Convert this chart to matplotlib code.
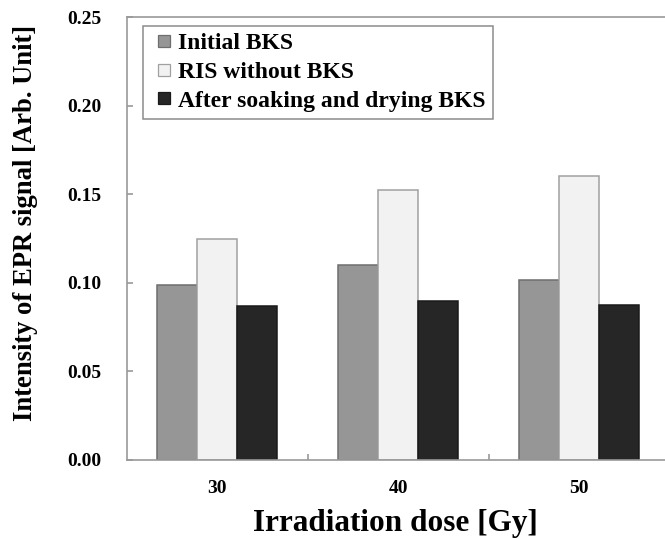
import matplotlib
matplotlib.use("Agg")
import matplotlib.pyplot as plt
from matplotlib.lines import Line2D
import numpy as np

categories = ["30", "40", "50"]
series_names = ["Initial BKS", "RIS without BKS", "After soaking and drying BKS"]
initial_bks = [0.099, 0.110, 0.1015]
ris_without_bks = [0.1245, 0.1526, 0.1603]
after_soaking = [0.0870, 0.0895, 0.0876]
yticks = [0.00, 0.05, 0.10, 0.15, 0.20, 0.25]

face_colors = ["#969696", "#f2f2f2", "#262626"]
edge_colors = ["#6e6e6e", "#a0a0a0", "#1a1a1a"]

plt.rcParams['font.family'] = ['Liberation Serif', 'DejaVu Serif']
plt.rcParams['font.weight'] = 'bold'

W, H = 665, 539
fig = plt.figure(figsize=(W / 100, H / 100), dpi=100)

left_px, right_px, top_px, bottom_px = 126.7, 126.7 + 543, 17, 460
ax = fig.add_axes([left_px / W, 1 - bottom_px / H, (right_px - left_px) / W, (bottom_px - top_px) / H])

x = np.arange(len(categories))
w = 0.222
all_series = [initial_bks, ris_without_bks, after_soaking]
for j, vals in enumerate(all_series):
    ax.bar(x + (j - 1) * w, vals, width=w, color=face_colors[j], edgecolor=edge_colors[j],
           linewidth=1.1, label=series_names[j], zorder=2)

ax.set_xlim(-0.5, 2.5)
ax.set_ylim(0, 0.25)
ax.set_yticks(yticks)
ax.set_yticklabels([f"{v:.2f}" for v in yticks])
ax.set_xticks(x)
ax.set_xticklabels(categories)
ax.set_xticks([0.5, 1.5], minor=True)

spine_color = "#999999"
for s in ax.spines.values():
    s.set_color(spine_color)
    s.set_linewidth(1.2)

ax.tick_params(axis='y', direction='in', length=4, width=1.2, color=spine_color,
               pad=18.5, labelsize=14)
ax.tick_params(axis='x', which='major', length=0, pad=14.5, labelsize=14)
ax.tick_params(axis='x', which='minor', direction='in', length=4, width=1.2, color=spine_color)
for lbl in ax.get_xticklabels() + ax.get_yticklabels():
    lbl.set_fontweight('bold')

ax.set_xlabel("Irradiation dose [Gy]", fontsize=22.5, fontweight='bold')
ax.xaxis.set_label_coords((395.8 - left_px) / 543, -(509.5 - bottom_px) / 443)
ax.set_ylabel("Intensity of EPR signal [Arb. Unit]", fontsize=19.2, fontweight='bold')
ax.yaxis.set_label_coords((38.5 - left_px) / 543, (bottom_px - 223) / 443)

handles = [Line2D([], [], linestyle='none', marker='s', markersize=8.2,
                  markerfacecolor=face_colors[j], markeredgecolor=edge_colors[j],
                  markeredgewidth=0.9) for j in range(3)]
leg = ax.legend(handles, series_names, loc='upper left',
                bbox_to_anchor=(142.7 / W, 1 - 25.7 / H), bbox_transform=fig.transFigure,
                borderaxespad=0, frameon=True, fancybox=False, framealpha=1,
                edgecolor="#8c8c8c", borderpad=0.3, handlelength=1.2, handletextpad=0.0,
                labelspacing=0.3, prop={'weight': 'bold', 'size': 17})
leg.get_frame().set_linewidth(1.1)

fig.savefig("out.png", dpi=100)
